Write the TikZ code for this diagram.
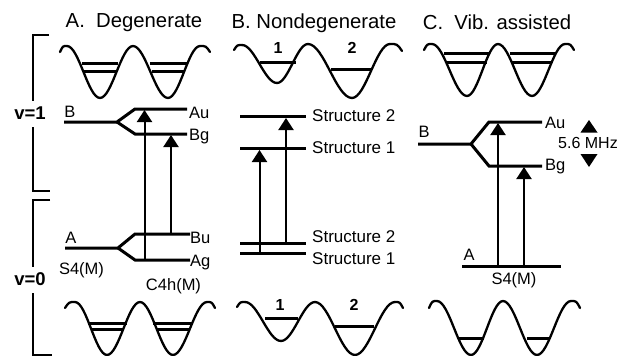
\documentclass[tikz,border=0pt]{standalone}
\usepackage{fontspec}
\setmainfont{Liberation Sans}
\usetikzlibrary{arrows.meta}
\tikzset{
  every node/.style={inner sep=0pt},
  wellcurve/.style={line width=2.3pt,line cap=round,line join=round},
  lev/.style={line width=2.3pt},
  levthick/.style={line width=3pt},
  trans/.style={line width=2pt,-{Triangle[width=15pt,length=12pt]}},
  brk/.style={line width=2.2pt},
  ttl/.style={anchor=center,font=\fontsize{20.3}{20.3}\selectfont},
  lab/.style={anchor=center,font=\fontsize{16.5}{16.5}\selectfont},
  slab/.style={anchor=west,font=\fontsize{17}{17}\selectfont},
  vlab/.style={anchor=center,font=\fontsize{18.5}{18.5}\selectfont\bfseries},
  num/.style={anchor=center,font=\fontsize{16}{16}\selectfont\bfseries},
}
% list of x/y: start, peak, min, peak, min, peak, end
\newcommand{\wellpath}[1]{%
  \foreach \x/\y [remember=\x as \px (initially 0), remember=\y as \py (initially 0), count=\i] in {#1} {%
    \ifnum\i=2
      \draw[wellcurve] (\px,\py) .. controls ({\x-.6*(\x-\px)},\y) .. (\x,\y);
    \else\ifnum\i=7
      \draw[wellcurve] (\px,\py) .. controls ({\px+.6*(\x-\px)},\py) .. (\x,\y);
    \else\ifnum\i>1
      \draw[wellcurve] (\px,\py) .. controls ({\px+.36*(\x-\px)},\py) and ({\x-.36*(\x-\px)},\y) .. (\x,\y);
    \fi\fi\fi
  }%
}
\begin{document}
\begin{tikzpicture}[x=1pt,y=-1pt]
\useasboundingbox (0,0) rectangle (619,356);
% Titles
\node[ttl] (ta) at (134,23) {A.\ \ Degenerate};
\node[ttl] (tb) at (314,23) {B. Nondegenerate};
\node[ttl] (tc) at (497,22) {C.\ \ Vib. assisted};
% brackets
\draw[brk] (49,35) -- (33,35) -- (33,101);
\draw[brk] (33,127) -- (33,191) -- (50,191);
\draw[brk] (50,200) -- (33,200) -- (33,267);
\draw[brk] (33,293) -- (33,355) -- (52,355);
\node[vlab] (v1) at (30,113) {v=1};
\node[vlab] (v0) at (30,279) {v=0};
% Wells A top
\wellpath{60/52,67/46,100/98,133/46,168/98,200/46,210/52}
\draw[lev] (82,63.5)--(118,63.5) (84,71.5)--(116,71.5) (150,63.5)--(187,63.5) (152,71.5)--(185,71.5);
% Wells A bottom
\wellpath{65/308,75/302,107/355,140/302,173/355,207/302,215/308}
\draw[lev] (88,323.5)--(127,323.5) (91,329.5)--(124,329.5) (153,323.5)--(192,323.5) (156,329.5)--(189,329.5);
% Wells B top
\wellpath{234/50,242/45,277/83,308/44,352/98,390/44,402/51}
\draw[lev] (260,62.5)--(296,62.5) (331,69.5)--(372,69.5);
\node[num] (b1) at (278,48) {1};
\node[num] (b2) at (352,48) {2};
% Wells B bottom
\wellpath{237/307,245/302,281/341,315/302,355/355,395/302,403/308}
\draw[lev] (265,318.5)--(298,318.5) (335,326.5)--(374,326.5);
\node[num] (b3) at (280,305) {1};
\node[num] (b4) at (354,305) {2};
% Wells C top
\wellpath{424/50,432/44,467/96,498/44,532/96,565/44,574/50}
\draw[lev] (444,53.5)--(489,53.5) (447,62.5)--(487,62.5) (510,53.5)--(555,53.5) (512,62.5)--(552,62.5);
% Wells C bottom
\wellpath{429/308,437/301,471/355,503/301,537/355,571/301,580/308}
\draw[lev] (458,338.5)--(484,338.5) (527,338.5)--(550,338.5);
% Panel A levels
\coordinate (AB) at (64,122); \coordinate (ABf) at (117,122);
\coordinate (AAu0) at (135,109); \coordinate (AAu) at (187,109);
\coordinate (ABg0) at (135,134); \coordinate (ABg) at (187,134);
\draw[levthick] (AB)--(ABf)--(AAu0)--(AAu);
\draw[levthick] (ABf)--(ABg0)--(ABg);
\coordinate (AA) at (65,248); \coordinate (AAf) at (118,248);
\coordinate (ABu0) at (135,234); \coordinate (ABu) at (190,234);
\coordinate (AAg0) at (135,260); \coordinate (AAg) at (190,260);
\draw[levthick] (AA)--(AAf)--(ABu0)--(ABu);
\draw[levthick] (AAf)--(AAg0)--(AAg);
\coordinate (a1b) at (144.5,260); \coordinate (a1t) at (144.5,110);
\coordinate (a2b) at (171,234); \coordinate (a2t) at (171,135);
\draw[trans] (a1b)--(a1t);
\draw[trans] (a2b)--(a2t);
\node[lab] (lB) at (70,112) {B};
\node[lab] (lA) at (71,238) {A};
\node[lab,anchor=west] (lAu) at (189,113) {Au};
\node[lab,anchor=west] (lBg) at (189,137) {Bg};
\node[lab,anchor=west] (lBu) at (190,238) {Bu};
\node[lab,anchor=west] (lAg) at (190,263) {Ag};
\node[lab] (ls4) at (81.5,270) {S4(M)};
\node[lab] (lc4) at (173.5,286) {C4h(M)};
% Panel B levels
\draw[levthick] (240,116.5)--(306,116.5);
\draw[levthick] (240,148.5)--(306,148.5);
\draw[levthick] (240,243.5)--(306,243.5);
\draw[levthick] (240,253.5)--(306,253.5);
\coordinate (b1b) at (286,243); \coordinate (b1t) at (286,118);
\coordinate (b2b) at (259.5,253); \coordinate (b2t) at (259.5,150);
\draw[trans] (b1b)--(b1t);
\draw[trans] (b2b)--(b2t);
\node[slab] (s2a) at (312,116) {Structure 2};
\node[slab] (s1a) at (312,148) {Structure 1};
\node[slab] (s2b) at (312,237) {Structure 2};
\node[slab] (s1b) at (312,259) {Structure 1};
% Panel C levels
\coordinate (CB) at (418,144); \coordinate (CBf) at (471,144);
\coordinate (CAu0) at (489,122); \coordinate (CAu) at (542,122);
\coordinate (CBg0) at (489,166); \coordinate (CBg) at (542,166);
\draw[levthick] (CB)--(CBf)--(CAu0)--(CAu);
\draw[levthick] (CBf)--(CBg0)--(CBg);
\draw[levthick] (462,266.5)--(561,266.5);
\coordinate (c1b) at (498,266); \coordinate (c1t) at (498,123);
\coordinate (c2b) at (524,266); \coordinate (c2t) at (524,167);
\draw[trans] (c1b)--(c1t);
\draw[trans] (c2b)--(c2t);
\node[lab] (cB) at (424,132) {B};
\node[lab] (cA) at (469,255) {A};
\node[lab,anchor=west] (cAu) at (545,123) {Au};
\node[lab,anchor=west] (cBg) at (545,167) {Bg};
\node[lab] (cS) at (514,280) {S4(M)};
\node[anchor=center,font=\fontsize{16}{16}\selectfont] (mhz) at (588,143) {5.6 MHz};
\fill (589,120)--(597.5,132.5)--(580.5,132.5)--cycle;
\fill (589,167)--(597.5,154)--(580.5,154)--cycle;
\end{tikzpicture}
\end{document}
